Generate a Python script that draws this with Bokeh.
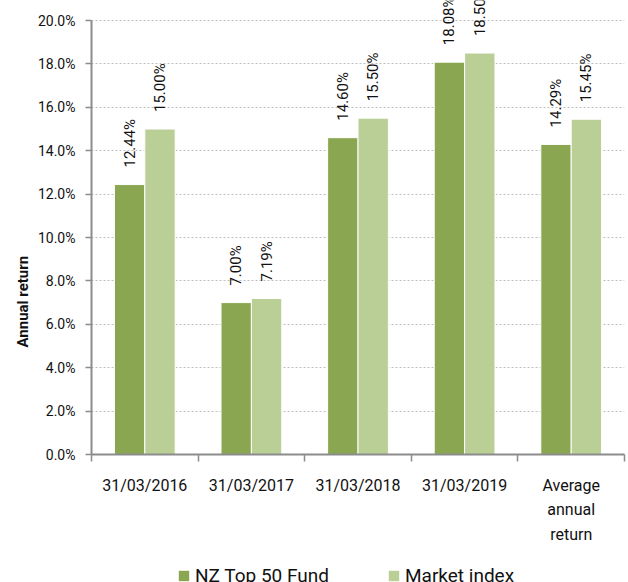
import math
from bokeh.plotting import figure
from bokeh.layouts import column
from bokeh.models import (ColumnDataSource, FixedTicker, LabelSet, Title, Legend,
                          LegendItem, Range1d)
from bokeh.core.properties import value
from bokeh.embed import file_html
from bokeh.resources import INLINE

categories = ["31/03/2016", "31/03/2017", "31/03/2018", "31/03/2019", "Average\nannual\nreturn"]
fund = [12.44, 7.00, 14.60, 18.08, 14.29]
market = [15.00, 7.19, 15.50, 18.50, 15.45]
series_names = ["NZ Top 50 Fund", "Market index"]
y_ticks = [0, 2, 4, 6, 8, 10, 12, 14, 16, 18, 20]

DARK = "#8aa650"
LIGHT = "#b9cf96"
FONT = "Roboto"

n = len(categories)
centers = [i + 0.5 for i in range(n)]
bw = 0.285
y_max = y_ticks[-1]

p = figure(width=628, height=552, output_backend="svg", toolbar_location=None,
           x_range=Range1d(0, n), y_range=Range1d(0, y_max * 454 / 434),
           min_border_left=91, min_border_right=4, min_border_top=0, min_border_bottom=98)
p.outline_line_color = None
p.background_fill_color = "white"
p.border_fill_color = "white"

src_f = ColumnDataSource(dict(x=[c - bw / 2 for c in centers], top=fund,
                              lab=[f"{v:.2f}%" for v in fund]))
src_m = ColumnDataSource(dict(x=[c + bw / 2 for c in centers], top=market,
                              lab=[f"{v:.2f}%" for v in market]))

p.vbar(x="x", top="top", width=bw, source=src_f, fill_color=DARK, line_color="white", line_width=1)
p.vbar(x="x", top="top", width=bw, source=src_m, fill_color=LIGHT, line_color="white", line_width=1)

for src in (src_f, src_m):
    p.add_layout(LabelSet(x="x", y="top", text="lab", source=src, angle=math.pi / 2,
                          text_align="left", text_baseline="middle", y_offset=17,
                          text_font=value(FONT), text_font_size="15px", text_color="#111111"))

# x axis
xa = p.xaxis[0]
xa.ticker = FixedTicker(ticks=centers, minor_ticks=list(range(n + 1)))
xa.major_label_overrides = {c: lab for c, lab in zip(centers, categories)}
xa.major_tick_out = 0
xa.major_tick_in = 0
xa.minor_tick_out = 7
xa.minor_tick_in = 0
xa.minor_tick_line_color = "#8c8c8c"
xa.minor_tick_line_width = 1.5
xa.axis_line_color = "#8c8c8c"
xa.axis_line_width = 2
xa.major_label_text_font = FONT
xa.major_label_text_font_size = "16px"
xa.major_label_text_color = "#111111"
xa.major_label_text_line_height = 1.3
xa.major_label_standoff = 14

# y axis
ya = p.yaxis[0]
ya.ticker = FixedTicker(ticks=y_ticks)
ya.bounds = (0, y_max)
ya.major_label_overrides = {t: f"{t:.1f}%" for t in y_ticks}
ya.major_tick_out = 6
ya.major_tick_in = 0
ya.minor_tick_out = 0
ya.minor_tick_in = 0
ya.major_tick_line_color = "#8c8c8c"
ya.major_tick_line_width = 1.5
ya.axis_line_color = "#8c8c8c"
ya.axis_line_width = 2
ya.major_label_text_font = FONT
ya.major_label_text_font_size = "14px"
ya.major_label_text_color = "#111111"
ya.major_label_standoff = 10

p.xgrid.grid_line_color = None
p.ygrid.grid_line_color = "#bfbfbf"
p.ygrid.grid_line_dash = "2 2"
p.ygrid.grid_line_width = 1

p.add_layout(Title(text="Annual return", align="left", offset=107,
                   text_font=FONT, text_font_size="15px", text_font_style="bold",
                   text_color="#111111", standoff=6), "left")

# legend strip
q = figure(width=628, height=30, output_backend="svg", toolbar_location=None,
           x_range=Range1d(0, n), y_range=Range1d(0, y_max),
           x_axis_type=None, y_axis_type=None,
           min_border_left=0, min_border_right=0, min_border_top=0, min_border_bottom=0)
q.outline_line_color = None
q.xgrid.grid_line_color = None
q.ygrid.grid_line_color = None
l1 = q.vbar(x="x", top="top", width=bw, source=src_f, fill_color=DARK, line_color=None)
l2 = q.vbar(x="x", top="top", width=bw, source=src_m, fill_color=LIGHT, line_color=None)
l1.visible = False
l2.visible = False
legend = Legend(items=[LegendItem(label=series_names[0], renderers=[l1]),
                       LegendItem(label=series_names[1], renderers=[l2])],
                orientation="horizontal", location=(86, -5),
                glyph_width=13, glyph_height=13, label_standoff=5, spacing=58,
                padding=0, margin=0, border_line_color=None, background_fill_alpha=0,
                label_text_font=FONT, label_text_font_size="19px", label_text_color="#111111")
q.add_layout(legend, "center")

layout = column(p, q, spacing=0)
open("out.html", "w").write(file_html(layout, INLINE))
